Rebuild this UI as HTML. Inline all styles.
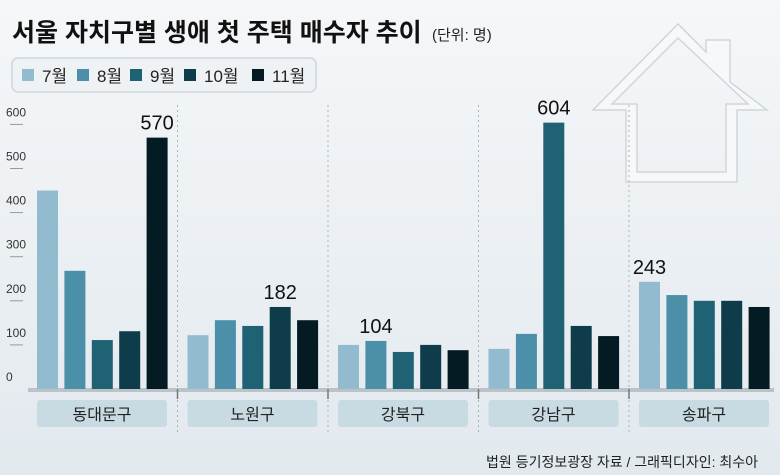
<!DOCTYPE html>
<html><head><meta charset="utf-8">
<style>
html,body{margin:0;padding:0}
body{width:780px;height:475px;overflow:hidden;background:linear-gradient(#f5f7f9,#e2e9ee);font-family:"Liberation Sans","Noto Sans CJK KR",sans-serif}
svg{display:block}
</style></head><body>
<svg id="chart" width="780" height="475">
<g>
<path fill-rule="evenodd" d="M593,110 L678,24 L706,52 L706,40 L730,40 L730,82 L767,110 L737,110 L737,182 L626,182 L626,110 Z M612,104 L678,38 L748,104 L726,104 L726,172 L637,172 L637,104 Z" fill="#f7f8f9" stroke="#cfd6da" stroke-width="1.5"/>
</g>
<text x="12" y="41" font-size="25" font-weight="bold" fill="#111">서울 자치구별 생애 첫 주택 매수자 추이</text>
<text x="432" y="40" font-size="15" fill="#222">(단위: 명)</text>
<rect x="12" y="58" width="304" height="34" rx="6" fill="#eef2f5" stroke="#cfd6da" stroke-width="1.5"/>
<g id="legend"></g>
<g id="yaxis"></g>
<g id="groups"></g>
<g id="bars"></g>
<text x="758" y="467" font-size="14" fill="#222" text-anchor="end">법원 등기정보광장 자료 / 그래픽디자인: 최수아</text>
</svg>
<script>
const categories=["동대문구","노원구","강북구","강남구","송파구"];
const months=["7월","8월","9월","10월","11월"];
const jul=[450,122,100,91,243];
const aug=[268,156,109,125,213];
const sep=[111,143,84,604,200];
const oct=[131,186,100,143,200];
const nov=[570,156,88,120,186];
const labelValues=[570,182,104,604,243];
const labelSeries=[4,3,1,2,0];
const yTicks=[0,100,200,300,400,500,600];

const series=[jul,aug,sep,oct,nov];
const colors=["#92bbcf","#4b8fa9","#1f6274","#0e3c4a","#041b23"];
const NS="http://www.w3.org/2000/svg";
const base=389, k=0.441;
const y=v=>base-v*k;
const gx=i=>37+i*150.5;
const bx=(i,s)=>gx(i)+s*27.4;
const bw=21;
function el(tag,attrs,parent){const e=document.createElementNS(NS,tag);for(const a in attrs)e.setAttribute(a,attrs[a]);parent.appendChild(e);return e;}

const lg=document.getElementById('legend');
const lx=[22,77,130,184,252];
months.forEach((m,i)=>{
  const r=el('rect',{x:lx[i],y:69,width:12,height:12,fill:colors[i]},lg);
  
  
  const t=el('text',{x:lx[i]+20,y:82,'font-size':17,fill:'#222'},lg);
  t.textContent=m;
  
  
});

const ya=document.getElementById('yaxis');
yTicks.forEach(v=>{
  const t=el('text',{x:6,y:y(v)-8,'font-size':12,fill:'#333'},ya);
  t.textContent=v;
  
  
  if(v>0){const l=el('line',{x1:10,x2:23,y1:y(v),y2:y(v),stroke:'#999','stroke-width':1},ya);
  
  }
});
const bl=el('rect',{x:28,y:base-1,width:746,height:4,fill:'#8a9296',opacity:0.45},ya);



const gg=document.getElementById('groups');
categories.forEach((c,i)=>{
  const p=el('rect',{x:gx(i),y:400,width:130,height:27,rx:3,fill:'#c8dbe3'},gg);
  
  
  const t=el('text',{x:gx(i)+65,y:420,'font-size':16,fill:'#222','text-anchor':'middle'},gg);
  t.textContent=c;
  
  
  if(i>0){const dx=gx(i)-10;
    const d=el('line',{x1:dx,x2:dx,y1:105,y2:432,stroke:'#aab3b8','stroke-dasharray':'2,3','stroke-width':1},gg);
    
    
    const tk=el('line',{x1:dx,x2:dx,y1:389,y2:399,stroke:'#777','stroke-width':1.5},gg);
    
    }
});

const bg=document.getElementById('bars');
categories.forEach((c,i)=>{
  series.forEach((s,j)=>{
    const r=el('rect',{x:bx(i,j),y:y(s[i]),width:bw,height:s[i]*k,fill:colors[j]},bg);
    
    
  });
  const sj=labelSeries[i];
  const t=el('text',{x:bx(i,sj)+bw/2,y:y(series[sj][i])-8,'font-size':20,fill:'#111','text-anchor':'middle'},bg);
  t.textContent=labelValues[i];
  
  
});
</script>
</body></html>
